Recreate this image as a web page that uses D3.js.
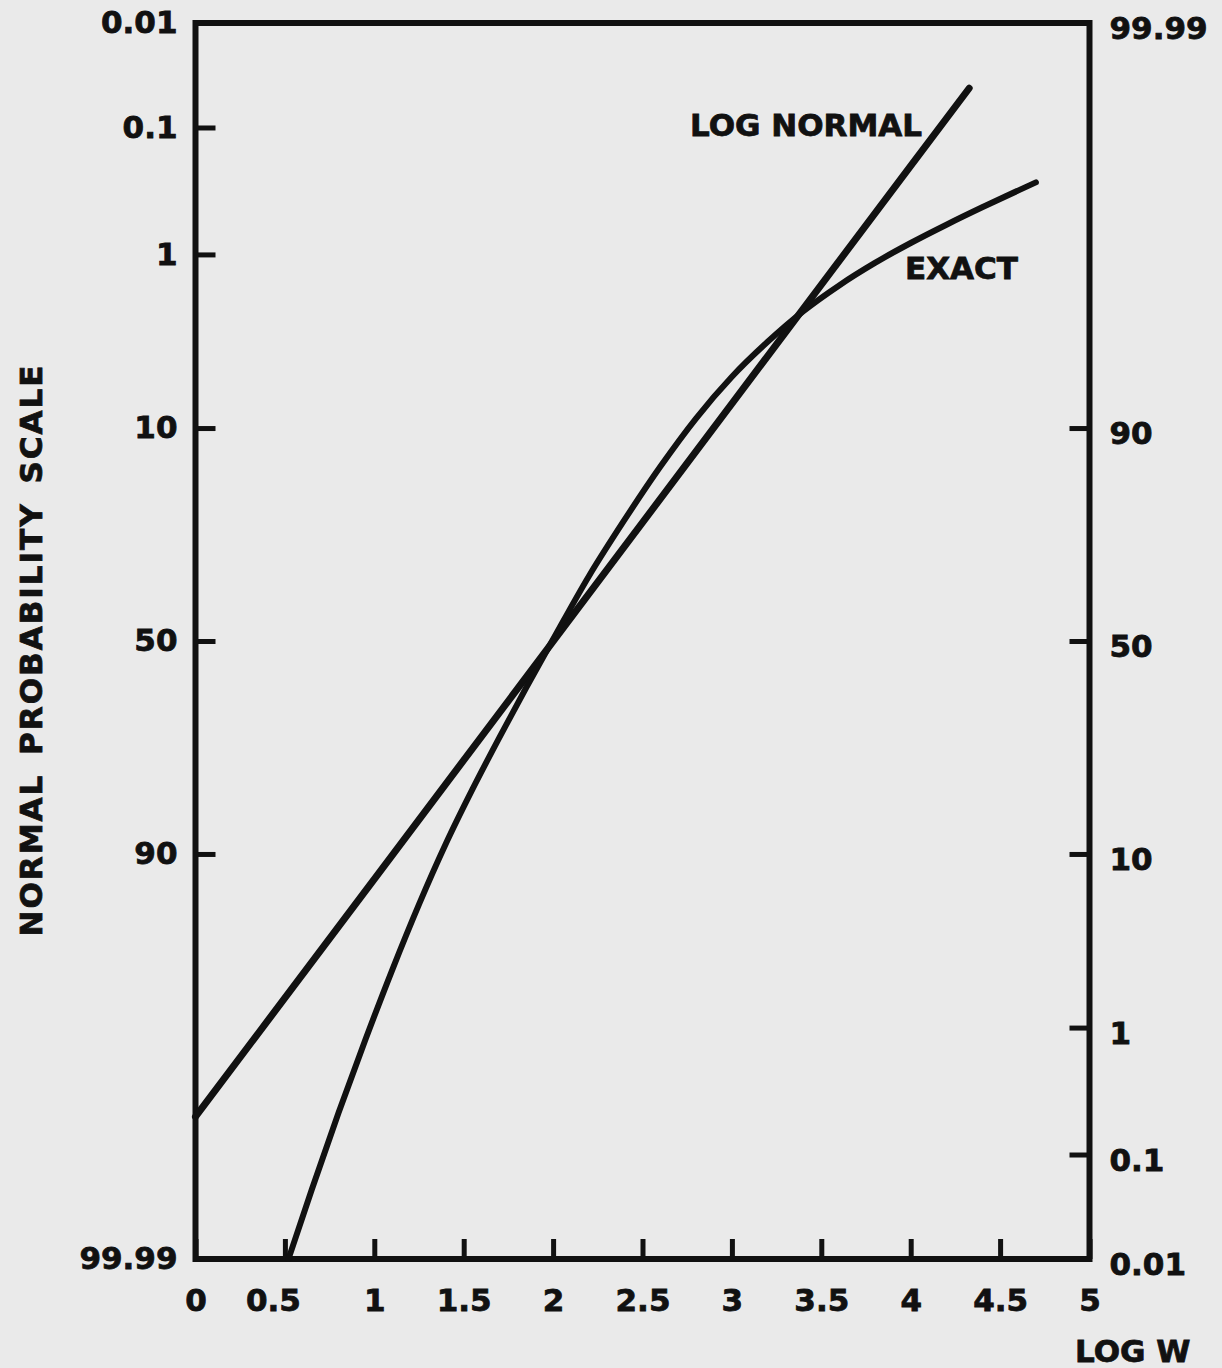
<!DOCTYPE html>
<html>
<head>
<meta charset="utf-8">
<script src="https://cdn.jsdelivr.net/npm/d3@7"></script>
<style>
    body { margin: 0; background: #eaeaea; }
    svg { display: block; }
    .axis text, .label { font-family: "DejaVu Sans", sans-serif; font-weight: bold; font-size: 31px; fill: #111; stroke: #111; stroke-width: 0.8px; }
    .axis line { stroke: #111; stroke-width: 5px; }
</style>
</head>
<body>
<div id="chart"></div>
<script>
// tick values and labels
const xTicks = [0, 0.5, 1, 1.5, 2, 2.5, 3, 3.5, 4, 4.5, 5];
const xTickLabels = ["0", "0.5", "1", "1.5", "2", "2.5", "3", "3.5", "4", "4.5", "5"];
const leftTicks = [0.01, 0.1, 1, 10, 50, 90, 99.99];
const leftTickLabels = ["0.01", "0.1", "1", "10", "50", "90", "99.99"];
const rightTicks = [99.99, 90, 50, 10, 1, 0.1, 0.01];
const rightTickLabels = ["99.99", "90", "50", "10", "1", "0.1", "0.01"];

// LOG NORMAL (straight line on probability paper), percent on the left scale
const logNormalLogW = [0, 1, 2, 3, 4, 4.327];
const logNormalPct = [99.79, 92.4, 50.1, 7.66, 0.212, 0.044];

// EXACT curve
const exactLogW = [0.52, 0.65, 0.80, 0.95, 1.10, 1.25, 1.40, 1.55, 1.70, 1.85, 2.00, 2.20, 2.40, 2.60, 2.80, 3.00, 3.20, 3.40, 3.60, 3.80, 4.00, 4.20, 4.40, 4.60, 4.70];
const exactPct = [99.99, 99.952, 99.774, 99.18, 97.615, 94.35, 88.88, 81.33, 71.90, 61.03, 49.60, 34.83, 23.27, 14.69, 9.01, 5.59, 3.59, 2.357, 1.618, 1.145, 0.831, 0.612, 0.453, 0.336, 0.289];

// inverse normal cdf (Acklam) for the probability scale
function probit(p) {
    const a = [-39.69683028665376, 220.9460984245205, -275.9285104469687, 138.3577518672690, -30.66479806614716, 2.506628277459239];
    const b = [-54.47609879822406, 161.5858368580409, -155.6989798598866, 66.80131188771972, -13.28068155288572];
    const c = [-0.007784894002430293, -0.3223964580411365, -2.400758277161838, -2.549732539343734, 4.374664141464968, 2.938163982698783];
    const d = [0.007784695709041462, 0.3224671290700398, 2.445134137142996, 3.754408661907416];
    const pl = 0.02425;
    let q, r;
    if (p < pl) {
        q = Math.sqrt(-2 * Math.log(p));
        return (((((c[0]*q+c[1])*q+c[2])*q+c[3])*q+c[4])*q+c[5]) / ((((d[0]*q+d[1])*q+d[2])*q+d[3])*q+1);
    }
    if (p > 1 - pl) {
        q = Math.sqrt(-2 * Math.log(1 - p));
        return -(((((c[0]*q+c[1])*q+c[2])*q+c[3])*q+c[4])*q+c[5]) / ((((d[0]*q+d[1])*q+d[2])*q+d[3])*q+1);
    }
    q = p - 0.5; r = q * q;
    return (((((a[0]*r+a[1])*r+a[2])*r+a[3])*r+a[4])*r+a[5])*q / (((((b[0]*r+b[1])*r+b[2])*r+b[3])*r+b[4])*r+1);
}

const width = 1222;
const height = 1368;
const margin = { top: 23, right: 132.5, bottom: 109, left: 195.5 };

const svg = d3.select("#chart")
    .append("svg")
    .attr("width", width)
    .attr("height", height);

svg.append("rect").attr("width", width).attr("height", height).attr("fill", "#eaeaea");

const x = d3.scaleLinear()
    .domain([0, 5])
    .range([margin.left, width - margin.right]);

// linear in z, left scale: 0.01 at top, 99.99 at bottom
const z = d3.scaleLinear()
    .domain([probit(0.0001), probit(0.9999)])
    .range([margin.top, height - margin.bottom]);

const yPct = p => z(probit(p / 100));

// axes
const leftAxis = svg.append("g")
    .attr("class", "axis")
    .attr("transform", `translate(${margin.left},0)`)
    .call(d3.axisLeft(z)
        .tickValues(leftTicks.map(p => probit(p / 100)))
        .tickFormat((d, i) => leftTickLabels[i])
        .tickSizeInner(-20).tickSizeOuter(0).tickPadding(18));
leftAxis.select(".domain").remove();

const rightAxis = svg.append("g")
    .attr("class", "axis")
    .attr("transform", `translate(${width - margin.right},0)`)
    .call(d3.axisRight(z)
        .tickValues(rightTicks.map(p => probit(1 - p / 100)))
        .tickFormat((d, i) => rightTickLabels[i])
        .tickSizeInner(-20).tickSizeOuter(0).tickPadding(20));
rightAxis.select(".domain").remove();
rightAxis.selectAll("text").attr("dy", "0.5em");

const bottomAxis = svg.append("g")
    .attr("class", "axis")
    .attr("transform", `translate(0,${height - margin.bottom})`)
    .call(d3.axisBottom(x)
        .tickValues(xTicks)
        .tickFormat((d, i) => xTickLabels[i])
        .tickSizeInner(-20).tickSizeOuter(0).tickPadding(30));
bottomAxis.select(".domain").remove();
bottomAxis.selectAll("text").filter(d => d === 0.5).attr("dx", "-12");

// frame
svg.append("rect")
    .attr("x", margin.left)
    .attr("y", margin.top)
    .attr("width", width - margin.right - margin.left)
    .attr("height", height - margin.bottom - margin.top)
    .attr("fill", "none")
    .attr("stroke", "#111")
    .attr("stroke-width", 6);

// curves
const logNormal = logNormalLogW.map((w, i) => [w, logNormalPct[i]]);
const exact = exactLogW.map((w, i) => [w, exactPct[i]]);

svg.append("path")
    .datum(logNormal)
    .attr("fill", "none")
    .attr("stroke", "#111")
    .attr("stroke-width", 7)
    .attr("stroke-linecap", "round")
    .attr("d", d3.line().x(d => x(d[0])).y(d => yPct(d[1])));

svg.append("path")
    .datum(exact)
    .attr("fill", "none")
    .attr("stroke", "#111")
    .attr("stroke-width", 6)
    .attr("stroke-linecap", "round")
    .attr("d", d3.line().curve(d3.curveMonotoneX).x(d => x(d[0])).y(d => yPct(d[1])));

// labels
svg.append("text").attr("class", "label").attr("x", 690).attr("y", 136).text("LOG NORMAL");
svg.append("text").attr("class", "label").attr("x", 905).attr("y", 279).text("EXACT");
svg.append("text").attr("class", "label").attr("x", 1075).attr("y", 1362).text("LOG W");

svg.append("text")
    .attr("class", "label")
    .attr("transform", "translate(31,650) rotate(-90)")
    .attr("text-anchor", "middle")
    .attr("dominant-baseline", "central")
    .style("letter-spacing", "2px")
    .style("word-spacing", "6px")
    .text("NORMAL PROBABILITY SCALE");
</script>
</body>
</html>
